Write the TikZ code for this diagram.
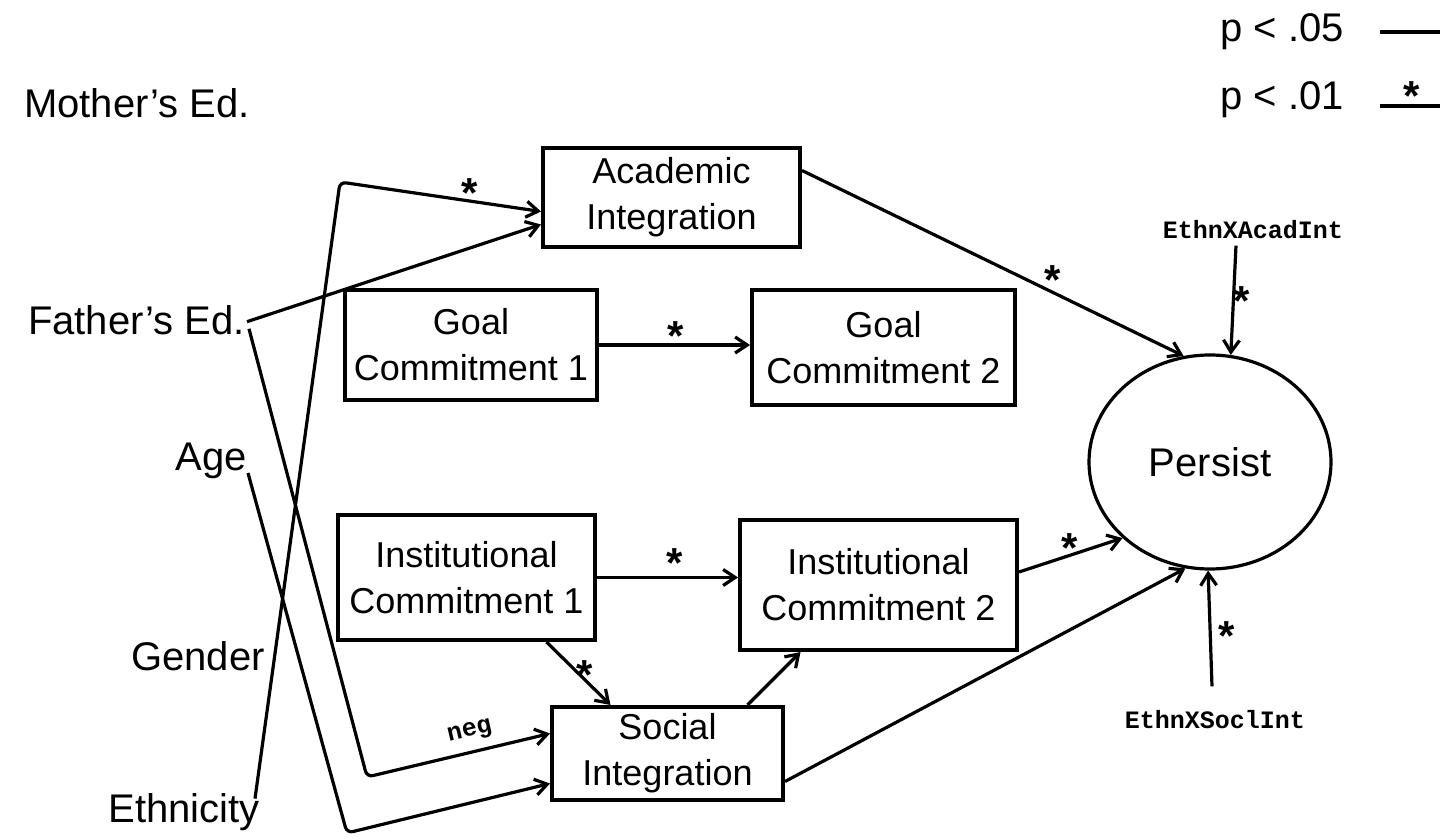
\documentclass[tikz,border=0pt]{standalone}
\usepackage{fontspec}
\setmainfont{Liberation Sans}
\newfontfamily\codefont{Liberation Mono}
\usetikzlibrary{
  arrows.meta,
  positioning,
  shapes.geometric
}
\tikzset{
  varbox/.style={draw, line width=2pt, inner sep=0pt, align=center,
    font=\fontsize{18}{23}\selectfont},
  factor/.style={inner sep=0pt, anchor=base east,
    font=\fontsize{20}{24}\selectfont},
  termlab/.style={inner sep=0pt, font=\codefont\bfseries\fontsize{12.5}{14}\selectfont},
  sig/.style={inner sep=0pt, yshift=-4pt, font=\bfseries\fontsize{21}{21}\selectfont},
  legendlab/.style={inner sep=0pt, font=\fontsize{20}{24}\selectfont},
  arr/.style={-{Straight Barb[length=6pt,width=8pt]}, line width=1.6pt,
    rounded corners=3pt},
  plain/.style={line width=1.8pt},
}

\begin{document}
\begin{tikzpicture}[x=0.5pt, y=-0.5pt]
  \useasboundingbox (0,0) rectangle (1452,840);

  % Legend
  \node[legendlab] (p05) at (1282,32) {p < .05};
  \node[legendlab] (p01) at (1282,100) {p < .01};
  \coordinate (l05a) at (1380,32);
  \coordinate (l05b) at (1440,32);
  \coordinate (l01a) at (1380,106);
  \coordinate (l01b) at (1440,106);
  \draw[plain] (l05a) -- (l05b);
  \draw[plain] (l01a) -- (l01b);
  \node[sig] (s01) at (1412,88) {*};

  % Background variables
  \node[factor] (mother) at (250,118) {Mother's Ed.};
  \node[factor] (father) at (245,334) {Father's Ed.};
  \node[factor] (age) at (247,470) {Age};
  \node[factor] (gender) at (265,670) {Gender};
  \node[factor] (ethn) at (260,822) {Ethnicity};

  % Boxes
  \node[varbox, minimum width=128.5pt, minimum height=49.5pt] (acad)
    at (671.5,197.5) {Academic\\Integration};
  \node[varbox, minimum width=126pt, minimum height=55pt] (gc1)
    at (471,345) {Goal\\Commitment 1};
  \node[varbox, minimum width=131.5pt, minimum height=57.5pt] (gc2)
    at (883.5,347.5) {Goal\\Commitment 2};
  \node[varbox, minimum width=128.5pt, minimum height=62.5pt] (ic1)
    at (466.5,577.5) {Institutional\\Commitment 1};
  \node[varbox, minimum width=138.5pt, minimum height=65pt] (ic2)
    at (878.5,585) {Institutional\\Commitment 2};
  \node[varbox, minimum width=115.5pt, minimum height=46.5pt] (social)
    at (667.5,753.5) {Social\\Integration};

  % Outcome
  \node[draw, ellipse, line width=1.6pt, inner sep=0pt,
    minimum width=121pt, minimum height=107pt,
    font=\fontsize{20}{24}\selectfont] (persist) at (1210,462) {Persist};

  % Interaction terms
  \node[termlab] (ethnacad) at (1253,230) {EthnXAcadInt};
  \node[termlab] (ethnsocl) at (1215,720) {EthnXSoclInt};

  % Bends of the long paths
  \coordinate (ethbend) at (340,182);
  \coordinate (fathbend) at (367,777);
  \coordinate (agebend) at (347,833);

  % Paths from background variables
  \draw[arr] ([shift={(-5,6)}]ethn.north east) -- (ethbend)
    -- ([shift={(0,14)}]acad.west);
  \draw[arr] ([shift={(2,2)}]father.east) -- ([shift={(0,27)}]acad.west);
  \draw[arr] ([shift={(4,-6)}]father.south east) -- (fathbend)
    -- ([shift={(0,-20)}]social.west);
  \draw[arr] ([shift={(1,3)}]age.base east) -- (agebend)
    -- ([shift={(0,30)}]social.west);

  % Paths among the boxes
  \draw[arr] (gc1.east) -- (gc1.east -| gc2.west);
  \draw[arr] (ic1.east) -- (ic1.east -| ic2.west);
  \draw[arr] ([shift={(80,0)}]ic1.south) -- ([shift={(-57,0)}]social.north);
  \draw[arr] ([shift={(80,0)}]social.north) -- ([shift={(-78,0)}]ic2.south);

  % Paths into Persist
  \draw[arr] ([shift={(0,-27)}]acad.east) -- (persist.104);
  \draw[arr] ([shift={(0,-13)}]ic2.east) -- (persist.221);
  \draw[arr] ([shift={(0,28)}]social.east) -- (persist.257);
  \draw[arr] ([shift={(-17,6)}]ethnacad.south) -- (persist.79);
  \draw[arr] ([shift={(-3,-24)}]ethnsocl.north) -- (persist.269);

  % Significance marks
  \node[sig] (s1) at (470,185) {*};
  \node[sig] (s2) at (676,328) {*};
  \node[sig] (s3) at (1053,272) {*};
  \node[sig] (s4) at (1242,293) {*};
  \node[sig] (s5) at (675,555) {*};
  \node[sig] (s6) at (1070,540) {*};
  \node[sig] (s7) at (1227,628) {*};
  \node[sig] (s8) at (585,667) {*};
  \node[termlab, rotate=13] (neg) at (470,732) {neg};
\end{tikzpicture}
\end{document}
